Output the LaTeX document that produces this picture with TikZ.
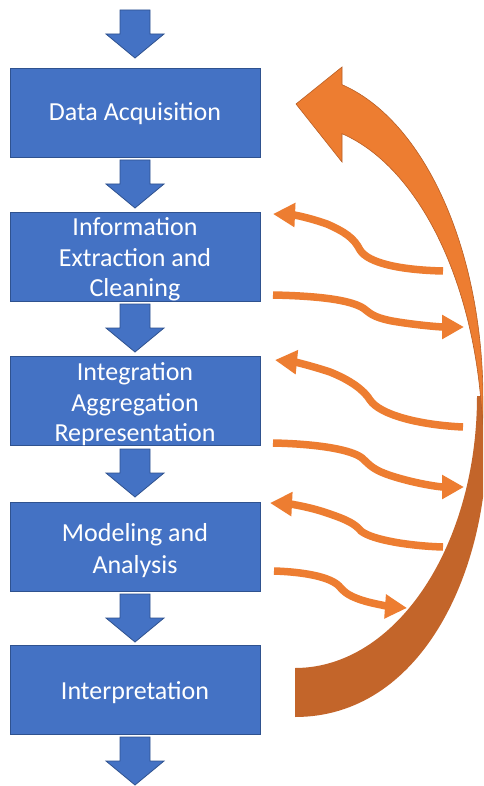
\documentclass[tikz,border=0pt]{standalone}
\usepackage{fontspec}
\setmainfont{Carlito}
\usetikzlibrary{arrows.meta}
\definecolor{boxblue}{HTML}{4472C4}
\definecolor{boxedge}{HTML}{2F528F}
\definecolor{orng}{HTML}{ED7D31}
\definecolor{orngdark}{HTML}{C3652A}
\definecolor{orngedge}{HTML}{B95E24}
\begin{document}
\begin{tikzpicture}[x=1pt,y=-1pt,
  stage/.style={rectangle, fill=boxblue, draw=boxedge, line width=0.9pt,
    minimum width=250pt, minimum height=89pt, inner sep=0pt},
  lbl/.style={anchor=base, text=white, inner sep=0pt,
    font=\fontsize{26}{30}\selectfont},
  downarr/.pic={\filldraw[fill=boxblue, draw=boxedge, line width=0.8pt]
    (-15,0) -- (15,0) -- (15,24) -- (29,24) -- (0,48) -- (-29,24) -- (-15,24) -- cycle;},
  wave/.style={draw=orng, line width=7.5pt, -{Triangle[length=22pt,width=23pt]}},
  bigfront/.style={fill=orng, draw=orngedge, line width=0.6pt},
  bigback/.style={fill=orngdark}
]
\clip (0,0) rectangle (483,786);
\fill[white] (0,0) rectangle (483,786);

% stage boxes
\node[stage] (b1) at (135,112.5) {};
\node[stage] (b2) at (135,256.5) {};
\node[stage] (b3) at (135,401) {};
\node[stage] (b4) at (135,546.5) {};
\node[stage] (b5) at (135,690) {};

% texts
\node[lbl] (t1) at (135,120.7) {Data Acquisition};
\node[lbl] (t2a) at (135,235.7) {Information};
\node[lbl] (t2b) at (135,266) {Extraction and};
\node[lbl] (t2c) at (135,296.3) {Cleaning};
\node[lbl] (t3a) at (135,380.7) {Integration};
\node[lbl] (t3b) at (135,411) {Aggregation};
\node[lbl] (t3c) at (135,441.3) {Representation};
\node[lbl] (t4a) at (135,541.7) {Modeling and};
\node[lbl] (t4b) at (135,573.3) {Analysis};
\node[lbl] (t5) at (135,699) {Interpretation};

% block arrows down
\pic at (135,10) {downarr};
\pic at (135,160) {downarr};
\pic at (135,304) {downarr};
\pic at (135,449) {downarr};
\pic at (135,594) {downarr};
\pic at (135,737) {downarr};

% big curved arrow: back (dark) part
\coordinate (bkA) at (295,668);
\coordinate (bkB) at (477,396);
\coordinate (bkC) at (488,396);
\coordinate (bkD) at (487,440);
\coordinate (bkE) at (295,717);
\fill[bigback] (bkA) .. controls (396,668) and (477,546) .. (bkB)
  -- (bkC) -- (bkD)
  .. controls (487,575) and (420,717) .. (bkE) -- cycle;
% front (light) part with head
\coordinate (hdT) at (296,104);
\coordinate (hdU) at (342,67);
\coordinate (hdL) at (342,162);
\filldraw[bigfront] (hdT) -- (hdU)
  -- plot[domain=76:-4.32, samples=60] ({297+186*cos(\x)},{400-325*sin(\x)})
  -- plot[domain=4.32:76, samples=60] ({297+186*cos(\x)},{449-325*sin(\x)})
  -- (hdL) -- cycle;

% wavy feedback arrows
\coordinate (wAs) at (443,271); \coordinate (wAe) at (273,214);
\coordinate (wBs) at (273,295); \coordinate (wBe) at (464,327);
\coordinate (wCs) at (463,427); \coordinate (wCe) at (275,360);
\coordinate (wDs) at (273,443); \coordinate (wDe) at (464,487);
\coordinate (wEs) at (443,547); \coordinate (wEe) at (270,503);
\coordinate (wFs) at (274,571); \coordinate (wFe) at (407,608);

\draw[wave] (wAs) .. controls (400,270) and (368,263) .. (360,250)
  .. controls (354,238) and (345,232) .. (327,224)
  .. controls (310,218) and (295,215) .. (wAe);
\draw[wave] (wBs) .. controls (320,296) and (350,300) .. (363,308)
  .. controls (370,313) and (372,317) .. (392,321)
  .. controls (415,325) and (440,327) .. (wBe);
\draw[wave] (wCs) .. controls (420,425) and (380,415) .. (370,400)
  .. controls (364,390) and (350,380) .. (330,372)
  .. controls (312,366) and (295,362) .. (wCe);
\draw[wave] (wDs) .. controls (320,444) and (352,450) .. (362,458)
  .. controls (370,465) and (372,470) .. (395,477)
  .. controls (418,484) and (440,487) .. (wDe);
\draw[wave] (wEs) .. controls (410,546) and (372,540) .. (361,531)
  .. controls (355,524) and (348,520) .. (327,513)
  .. controls (310,507) and (290,504) .. (wEe);
\draw[wave] (wFs) .. controls (305,572) and (330,577) .. (339,586)
  .. controls (345,593) and (350,597) .. (368,602)
  .. controls (380,605) and (393,607) .. (wFe);
\end{tikzpicture}
\end{document}
